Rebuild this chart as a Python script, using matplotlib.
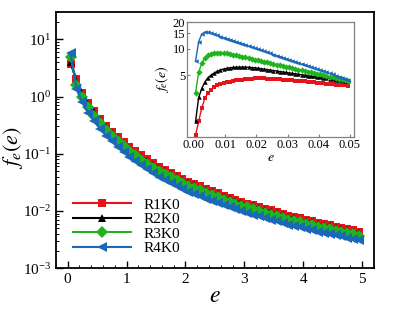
import matplotlib
matplotlib.use("Agg")
import matplotlib.pyplot as plt
from matplotlib.ticker import LogLocator, MultipleLocator, FixedLocator, NullLocator, FormatStrFormatter, NullFormatter

plt.rcParams['font.family'] = ['Liberation Serif', 'DejaVu Serif']
plt.rcParams['mathtext.fontset'] = 'stix'

labels = ["R1K0", "R2K0", "R3K0", "R4K0"]
colors = ["#e3141b", "#000000", "#1fb41f", "#1a68b8"]
markers = ["s", "^", "D", "<"]

# main plot: e values
e_main = [0.05, 0.15, 0.25, 0.35, 0.45, 0.55, 0.65, 0.75, 0.85, 0.95,
          1.05, 1.15, 1.25, 1.35, 1.45, 1.55, 1.65, 1.75, 1.85, 1.95,
          2.05, 2.15, 2.25, 2.35, 2.45, 2.55, 2.65, 2.75, 2.85, 2.95,
          3.05, 3.15, 3.25, 3.35, 3.45, 3.55, 3.65, 3.75, 3.85, 3.95,
          4.05, 4.15, 4.25, 4.35, 4.45, 4.55, 4.65, 4.75, 4.85, 4.95]

r1_main = [3.72, 2.00, 1.17, 0.776, 0.550, 0.407, 0.309, 0.245, 0.195, 0.158,
           0.132, 0.110, 0.0933, 0.0794, 0.0676, 0.0589, 0.0513, 0.0457, 0.0407, 0.0363,
           0.0324, 0.0295, 0.0269, 0.0245, 0.0224, 0.0204, 0.0186, 0.0170, 0.0158, 0.0145,
           0.0135, 0.0126, 0.0117, 0.0110, 0.0102, 0.00955, 0.00891, 0.00832, 0.00776, 0.00741,
           0.00692, 0.00661, 0.00617, 0.00589, 0.00562, 0.00525, 0.00501, 0.00479, 0.00457, 0.00437]
r2_main = [4.10, 1.90, 1.12, 0.745, 0.527, 0.390, 0.296, 0.234, 0.186, 0.151,
           0.126, 0.105, 0.0890, 0.0758, 0.0646, 0.0562, 0.0490, 0.0436, 0.0389, 0.0347,
           0.0310, 0.0282, 0.0257, 0.0234, 0.0214, 0.0195, 0.0178, 0.0162, 0.0151, 0.0139,
           0.0129, 0.0120, 0.0112, 0.0105, 0.00975, 0.00912, 0.00851, 0.00795, 0.00741, 0.00708,
           0.00661, 0.00631, 0.00589, 0.00562, 0.00537, 0.00501, 0.00479, 0.00457, 0.00437, 0.00417]
r3_main = [5.00, 1.60, 0.98, 0.655, 0.466, 0.345, 0.262, 0.208, 0.166, 0.134,
           0.112, 0.0935, 0.0793, 0.0675, 0.0575, 0.0501, 0.0436, 0.0388, 0.0346, 0.0309,
           0.0275, 0.0251, 0.0229, 0.0208, 0.0190, 0.0173, 0.0158, 0.0145, 0.0134, 0.0123,
           0.0115, 0.0107, 0.00995, 0.00935, 0.00867, 0.00812, 0.00757, 0.00707, 0.00660, 0.00630,
           0.00588, 0.00562, 0.00524, 0.00501, 0.00478, 0.00446, 0.00426, 0.00407, 0.00388, 0.00371]
r4_main = [5.80, 1.35, 0.79, 0.52, 0.37, 0.273, 0.207, 0.164, 0.130, 0.106,
           0.0885, 0.0737, 0.0625, 0.0532, 0.0453, 0.0395, 0.0344, 0.0306, 0.0273, 0.0243,
           0.0217, 0.0198, 0.0180, 0.0165, 0.0151, 0.0138, 0.0126, 0.0116, 0.0107, 0.00985,
           0.00915, 0.00857, 0.00800, 0.00752, 0.00700, 0.00659, 0.00617, 0.00578, 0.00541, 0.00519,
           0.00486, 0.00466, 0.00436, 0.00418, 0.00400, 0.00375, 0.00359, 0.00343, 0.00329, 0.00315]

# inset
e_inset = [0.0005, 0.0015, 0.0025, 0.0035, 0.0045, 0.0055, 0.0065, 0.0075, 0.0085, 0.0095,
           0.0105, 0.0115, 0.0125, 0.0135, 0.0145, 0.0155, 0.0165, 0.0175, 0.0185, 0.0195,
           0.0205, 0.0215, 0.0225, 0.0235, 0.0245, 0.0255, 0.0265, 0.0275, 0.0285, 0.0295,
           0.0305, 0.0315, 0.0325, 0.0335, 0.0345, 0.0355, 0.0365, 0.0375, 0.0385, 0.0395,
           0.0405, 0.0415, 0.0425, 0.0435, 0.0445, 0.0455, 0.0465, 0.0475, 0.0485, 0.0495]
r1_inset = [1.06, 1.50, 2.14, 2.75, 3.14, 3.44, 3.67, 3.87, 3.98, 4.07,
            4.16, 4.24, 4.30, 4.36, 4.42, 4.47, 4.51, 4.55, 4.58, 4.60,
            4.61, 4.61, 4.60, 4.59, 4.57, 4.55, 4.53, 4.50, 4.47, 4.44,
            4.41, 4.38, 4.35, 4.32, 4.28, 4.25, 4.22, 4.18, 4.15, 4.12,
            4.08, 4.05, 4.02, 3.99, 3.95, 3.92, 3.89, 3.86, 3.83, 3.80]
r2_inset = [1.50, 2.80, 3.55, 4.20, 4.70, 5.02, 5.30, 5.55, 5.75, 5.88,
            5.98, 6.06, 6.12, 6.16, 6.18, 6.19, 6.18, 6.15, 6.11, 6.06,
            6.00, 5.93, 5.86, 5.79, 5.72, 5.65, 5.58, 5.51, 5.44, 5.38,
            5.31, 5.25, 5.19, 5.13, 5.07, 5.01, 4.95, 4.89, 4.84, 4.78,
            4.73, 4.67, 4.62, 4.57, 4.52, 4.47, 4.42, 4.37, 4.32, 4.27]
r3_inset = [3.16, 5.40, 6.90, 7.80, 8.40, 8.70, 8.90, 9.00, 9.02, 8.98,
            8.85, 8.70, 8.55, 8.40, 8.25, 8.10, 7.95, 7.80, 7.66, 7.52,
            7.38, 7.24, 7.11, 6.98, 6.85, 6.72, 6.60, 6.48, 6.36, 6.24,
            6.13, 6.02, 5.91, 5.80, 5.69, 5.59, 5.49, 5.39, 5.29, 5.19,
            5.10, 5.00, 4.91, 4.82, 4.73, 4.65, 4.56, 4.48, 4.40, 4.32]
r4_inset = [7.25, 12.0, 14.6, 15.4, 15.3, 14.9, 14.5, 14.1, 13.7, 13.3,
            12.95, 12.6, 12.25, 11.9, 11.6, 11.3, 11.0, 10.7, 10.4, 10.1,
            9.85, 9.58, 9.32, 9.07, 8.82, 8.58, 8.35, 8.12, 7.90, 7.69,
            7.48, 7.28, 7.08, 6.89, 6.70, 6.52, 6.35, 6.18, 6.01, 5.85,
            5.69, 5.54, 5.39, 5.24, 5.10, 4.96, 4.83, 4.70, 4.57, 4.45]

inset_yticks = [5, 10, 15, 20]
inset_xticks = [0.00, 0.01, 0.02, 0.03, 0.04, 0.05]

fig = plt.figure(figsize=(3.99, 3.10), dpi=100)
ax = fig.add_axes([0.140, 0.135, 0.797, 0.826])

main_series = [r1_main, r2_main, r3_main, r4_main]
msizes = [6.2, 6.2, 6.2, 7.0]
for ys, c, m, lab, ms in zip(main_series, colors, markers, labels, msizes):
    ax.plot(e_main, ys, color=c, marker=m, markersize=ms, lw=1.5,
            markeredgewidth=0, label=lab)

ax.set_yscale('log')
ax.set_xlim(-0.2, 5.2)
ax.set_ylim(1e-3, 30)
ax.xaxis.set_major_locator(MultipleLocator(1))
ax.xaxis.set_minor_locator(MultipleLocator(0.2))
ax.yaxis.set_major_locator(LogLocator(base=10, numticks=10))
ax.yaxis.set_minor_locator(LogLocator(base=10, subs=range(2, 10), numticks=20))
ax.yaxis.set_minor_formatter(NullFormatter())
ax.tick_params(which='both', direction='in', top=False, right=False, labelsize=11)
ax.tick_params(which='major', length=5, width=1.0)
ax.tick_params(which='minor', length=2.5, width=0.7)
for s in ax.spines.values():
    s.set_linewidth(1.3)
ax.set_xlabel('$e$', fontsize=17, labelpad=0)
ax.set_ylabel('$f_e(e)$', fontsize=16)
ax.yaxis.set_label_coords(-0.098, 0.47)

leg = ax.legend(loc='lower left', bbox_to_anchor=(0.02, 0.008), frameon=False,
                fontsize=11, handlelength=3.8, handletextpad=0.8,
                labelspacing=0.06, borderaxespad=0.3)

# inset
ax2 = fig.add_axes([0.469, 0.558, 0.418, 0.371])
inset_series = [r1_inset, r2_inset, r3_inset, r4_inset]
for ys, c, m in zip(inset_series, colors, markers):
    ax2.plot(e_inset, ys, color=c, marker=m, markersize=3.2, lw=1.0,
             markeredgewidth=0)
ax2.set_yscale('log')
ax2.set_xlim(-0.0022, 0.0513)
ax2.set_ylim(1, 20)
ax2.yaxis.set_major_locator(FixedLocator(inset_yticks))
ax2.yaxis.set_minor_locator(NullLocator())
ax2.yaxis.set_major_formatter(FormatStrFormatter('%d'))
ax2.xaxis.set_major_locator(FixedLocator(inset_xticks))
ax2.xaxis.set_major_formatter(FormatStrFormatter('%.2f'))
ax2.tick_params(which='both', direction='in', labelsize=9, length=2.5,
                pad=1.5, color='#808080')
for s in ax2.spines.values():
    s.set_color('#808080')
    s.set_linewidth(0.9)
ax2.set_xlabel('$e$', fontsize=10, labelpad=0)
ax2.set_ylabel('$f_e(e)$', fontsize=10, labelpad=1)

fig.savefig('out.png', dpi=100)
